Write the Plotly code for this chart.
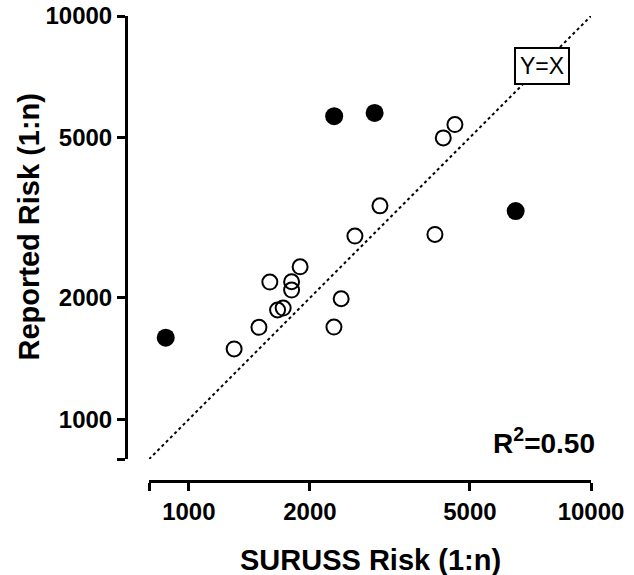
import math
import plotly.graph_objects as go

# ---- data ----
open_x = [1296, 1494, 1662, 1716, 1590, 1801, 1801, 1891, 2392, 2295, 2588, 2987, 4092, 4292, 4588]
open_y = [1494, 1690, 1866, 1887, 2189, 2193, 2091, 2388, 1990, 1693, 2846, 3382, 2873, 4986, 5381]
filled_x = [876, 2298, 2897, 6496]
filled_y = [1593, 5643, 5750, 3282]
identity_vals = [796, 10000]
x_tickvals = [796, 1000, 2000, 5000, 10000]
x_ticktext = ["", "1000", "2000", "5000", "10000"]
y_tickvals = [797, 1000, 2000, 5000, 10000]
y_ticktext = ["", "1000", "2000", "5000", "10000"]
r2_label = "R<sup>2</sup>=0.50"
identity_label = "Y=X"
x_title = "SURUSS Risk (1:n)"
y_title = "Reported Risk (1:n)"

# ---- layout geometry (pixels) ----
W, H = 634, 575
L, R, T, B = 126, 591, 16, 481
PW, PH = R - L, B - T


def px(xp):
    return (xp - L) / PW


def py(yp):
    return (B - yp) / PH


FONT = "Liberation Sans, Arial, sans-serif"

fig = go.Figure()
fig.add_trace(go.Scatter(
    x=identity_vals, y=identity_vals, mode="lines",
    line=dict(color="black", width=2, dash="dot"),
    hoverinfo="skip", showlegend=False))
fig.add_trace(go.Scatter(
    x=open_x, y=open_y, mode="markers",
    marker=dict(symbol="circle-open", size=15, color="black",
                line=dict(color="black", width=2)),
    showlegend=False))
fig.add_trace(go.Scatter(
    x=filled_x, y=filled_y, mode="markers",
    marker=dict(symbol="circle", size=18, color="black",
                line=dict(width=0)),
    showlegend=False))

axis_common = dict(
    type="log", showgrid=False, zeroline=False, automargin=False,
    showline=True, linecolor="black", linewidth=3,
    ticks="outside", ticklen=8, tickwidth=3, tickcolor="black",
    tickfont=dict(family=FONT, size=24, color="black", weight="bold"),
    anchor="free", position=0,
)

fig.update_layout(
    width=W, height=H,
    margin=dict(l=L, r=W - R, t=T, b=H - B, pad=0, autoexpand=False),
    paper_bgcolor="white", plot_bgcolor="white",
    xaxis=dict(axis_common,
               range=[math.log10(x_tickvals[0]), math.log10(x_tickvals[-1])],
               domain=[px(149), 1],
               tickmode="array", tickvals=x_tickvals, ticktext=x_ticktext),
    yaxis=dict(axis_common,
               range=[math.log10(y_tickvals[0]), math.log10(y_tickvals[-1])],
               domain=[py(459), 1],
               tickmode="array", tickvals=y_tickvals, ticktext=y_ticktext),
)

fig.add_annotation(
    x=px(542), y=py(66), xref="paper", yref="paper",
    text=identity_label, showarrow=False,
    font=dict(family=FONT, size=23, color="black"),
    bgcolor="white", bordercolor="black", borderwidth=2, borderpad=4,
    xanchor="center", yanchor="middle")
fig.add_annotation(
    x=px(597), y=py(441), xref="paper", yref="paper",
    text=r2_label, showarrow=False,
    font=dict(family=FONT, size=28, color="black", weight="bold"),
    xanchor="right", yanchor="middle")
fig.add_annotation(
    x=px(370), y=py(560), xref="paper", yref="paper",
    text=x_title, showarrow=False,
    font=dict(family=FONT, size=29, color="black", weight="bold"),
    xanchor="center", yanchor="middle")
fig.add_annotation(
    x=px(28), y=py(227.5), xref="paper", yref="paper",
    text=y_title, showarrow=False, textangle=-90,
    font=dict(family=FONT, size=29, color="black", weight="bold"),
    xanchor="center", yanchor="middle")

fig.write_html("out.html", config={"displayModeBar": False},
               post_script="document.body.style.margin='0';")
